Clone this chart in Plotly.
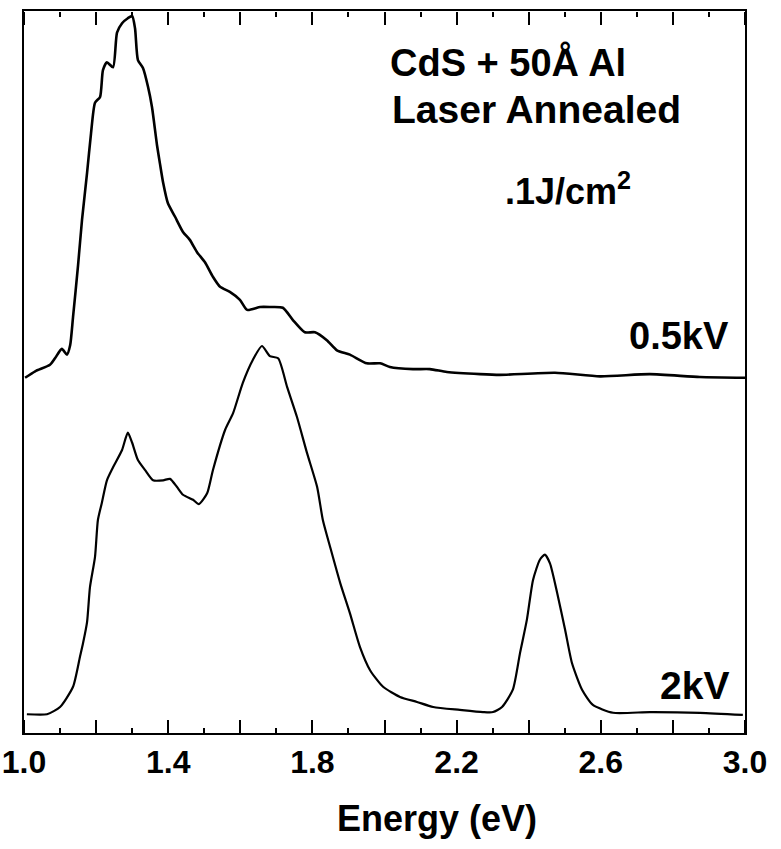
import plotly.graph_objects as go

# 0.5 kV spectrum (energy in eV, intensity arbitrary units)
e_05 = [1.003, 1.031, 1.072, 1.086, 1.105, 1.119, 1.128, 1.136, 1.150, 1.161, 1.175, 1.186,
        1.197, 1.211, 1.219, 1.230, 1.247, 1.258, 1.272, 1.288, 1.300, 1.308, 1.316, 1.330,
        1.344, 1.355, 1.369, 1.377, 1.386, 1.399, 1.419, 1.441, 1.460, 1.480, 1.502, 1.524,
        1.544, 1.571, 1.599, 1.619, 1.655, 1.682, 1.718, 1.746, 1.779, 1.807, 1.840, 1.868,
        1.904, 1.951, 1.988, 2.015, 2.079, 2.126, 2.173, 2.265, 2.320, 2.473, 2.598, 2.736,
        2.875, 3.000]
i_05 = [49.2, 50.1, 51.0, 51.9, 53.2, 52.4, 53.7, 57.6, 64.8, 71.1, 77.6, 83.1,
        87.3, 88.1, 91.8, 92.9, 92.2, 97.0, 98.3, 99.0, 99.3, 97.6, 93.2, 92.1,
        89.5, 86.7, 81.4, 78.9, 76.2, 73.4, 71.5, 69.4, 68.3, 66.6, 65.2, 63.2,
        61.8, 61.1, 60.0, 58.6, 59.0, 59.0, 58.9, 57.2, 55.5, 55.5, 54.4, 53.0,
        52.4, 51.2, 51.2, 50.7, 50.4, 50.4, 50.0, 49.7, 49.6, 49.9, 49.4, 49.7,
        49.3, 49.2]

# 2 kV spectrum
e_2 = [1.008, 1.064, 1.100, 1.136, 1.155, 1.164, 1.175, 1.183, 1.197, 1.205, 1.216, 1.230,
       1.247, 1.272, 1.288, 1.300, 1.316, 1.336, 1.358, 1.386, 1.405, 1.424, 1.441, 1.469,
       1.485, 1.508, 1.524, 1.558, 1.580, 1.607, 1.635, 1.660, 1.682, 1.705, 1.730, 1.757,
       1.785, 1.813, 1.829, 1.849, 1.877, 1.904, 1.932, 1.960, 1.996, 2.043, 2.090, 2.135,
       2.209, 2.273, 2.301, 2.326, 2.356, 2.376, 2.395, 2.412, 2.431, 2.445, 2.459, 2.479,
       2.501, 2.520, 2.548, 2.578, 2.634, 2.736, 2.875, 2.994]
i_2 = [2.6, 2.6, 3.6, 6.4, 10.5, 12.5, 15.4, 20.2, 24.4, 29.5, 31.9, 35.0,
       36.8, 39.2, 41.6, 40.2, 37.8, 36.4, 35.0, 35.0, 35.2, 34.1, 33.0, 32.3,
       31.7, 33.2, 36.4, 42.0, 44.3, 48.5, 51.7, 53.6, 52.2, 51.9, 47.9, 43.8,
       38.8, 34.1, 29.5, 25.8, 20.8, 16.6, 11.9, 8.7, 6.4, 5.0, 4.3, 3.6,
       3.2, 2.9, 2.9, 3.6, 6.0, 11.1, 15.7, 21.2, 24.0, 24.7, 23.5, 19.4,
       14.3, 9.7, 6.0, 3.9, 2.8, 2.9, 2.8, 2.5]

x_range = [1.0, 3.0]
# labels only on every other major tick
label_alias = {"1.2": " ", "1.6": " ", "2.0": " ", "2.4": " ", "2.8": " "}

FONT = "Liberation Sans, Arial, sans-serif"
CLEAR = "rgba(0,0,0,0)"

fig = go.Figure()
fig.add_trace(go.Scatter(x=e_05, y=i_05, mode="lines", name="0.5 kV",
                         line=dict(color="black", width=2.6, shape="spline", smoothing=0.6)))
fig.add_trace(go.Scatter(x=e_2, y=i_2, mode="lines", name="2 kV",
                         line=dict(color="black", width=2.2, shape="spline", smoothing=0.6)))
# invisible copies so the two tick-only axes (x2 bottom-inside, x3 top-inside) are drawn
for ax in ("x2", "x3"):
    fig.add_trace(go.Scatter(x=e_2, y=i_2, xaxis=ax, mode="lines", opacity=0,
                             line=dict(width=0), hoverinfo="skip", showlegend=False))

annots = [
    dict(text="<b>CdS + 50Å Al</b>", x=2.01, y=92.8, xanchor="left", size=38),
    dict(text="<b>Laser Annealed</b>", x=2.015, y=86.4, xanchor="left", size=39),
    dict(text="<b>.1J/cm<sup>2</sup></b>", x=2.33, y=75.4, xanchor="left", size=36),
    dict(text="<b>0.5kV</b>", x=2.96, y=55.0, xanchor="right", size=38),
    dict(text="<b>2kV</b>", x=2.962, y=6.6, xanchor="right", size=39),
]
for a in annots:
    fig.add_annotation(text=a["text"], x=a["x"], y=a["y"], xref="x", yref="y",
                       xanchor=a["xanchor"], yanchor="middle", showarrow=False,
                       font=dict(family=FONT, size=a["size"], color="black"))

# axis title (offset to the right as in the original)
fig.add_annotation(text="<b>Energy (eV)</b>", x=0.573, y=-0.119, xref="paper", yref="paper",
                   xanchor="center", yanchor="middle", showarrow=False,
                   font=dict(family=FONT, size=36, color="black"))

tick_common = dict(
    range=x_range, tick0=1.0, dtick=0.2, showticklabels=False,
    ticks="outside", ticklen=13, tickwidth=2, tickcolor="black",
    minor=dict(ticks="outside", ticklen=5, tickwidth=2, tickcolor="black", dtick=0.1),
    showline=False, showgrid=False, zeroline=False, overlaying="x", anchor="free",
)

fig.update_layout(
    template="none",
    width=781, height=849,
    margin=dict(l=24, r=36, t=11, b=116),
    plot_bgcolor="white",
    showlegend=False,
    xaxis=dict(
        range=x_range, dtick=0.2, tick0=1.0, tickformat=".1f",
        labelalias=label_alias, ticks="",
        showline=True, linewidth=2, linecolor="black", mirror=True,
        showgrid=False, zeroline=False,
        tickfont=dict(family=FONT, size=32, color="black", weight="bold"),
    ),
    # bottom ticks pointing up into the plot
    xaxis2=dict(side="top", position=0, **tick_common),
    # top ticks pointing down into the plot
    xaxis3=dict(side="bottom", position=1, **tick_common),
    yaxis=dict(
        range=[0, 100], tickvals=[], ticks="",
        showline=True, linewidth=2, linecolor="black", mirror=True,
        showgrid=False, zeroline=False,
    ),
)

fig.write_html("out.html")
